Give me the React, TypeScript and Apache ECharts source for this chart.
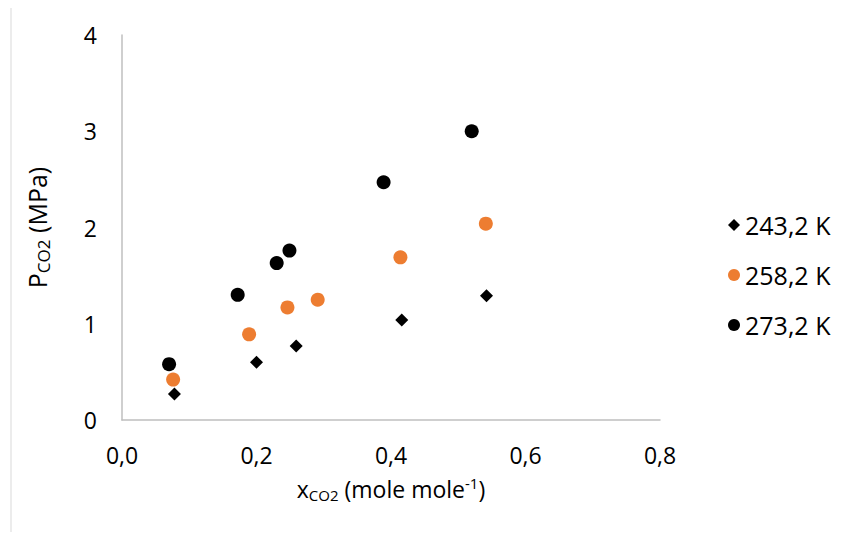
import React, { useEffect, useRef } from "react";
import * as echarts from "echarts";

const seriesNames = ["243,2 K", "258,2 K", "273,2 K"];
const xTicks = [0, 0.2, 0.4, 0.6, 0.8];

const x243 = [0.078, 0.2, 0.259, 0.416, 0.542];
const p243 = [0.27, 0.6, 0.77, 1.04, 1.29];

const x258 = [0.076, 0.189, 0.246, 0.291, 0.414, 0.541];
const p258 = [0.42, 0.89, 1.17, 1.25, 1.69, 2.04];

const x273 = [0.07, 0.172, 0.23, 0.249, 0.389, 0.52];
const p273 = [0.58, 1.3, 1.63, 1.76, 2.47, 3.0];

const FONT = "Open Sans";

export default function App() {
  const ref = useRef<HTMLDivElement>(null);
  useEffect(() => {
    if (!ref.current) return;
    const chart = echarts.init(ref.current, null, { renderer: "svg" });
    const pair = (xs: number[], ys: number[]) => xs.map((x, i) => [x, ys[i]]);
    const subStyle = { fontSize: 15, verticalAlign: "bottom", padding: [12, 0, 0, 0], fontFamily: FONT, color: "#000" };
    chart.setOption({
      animation: false,
      backgroundColor: "#ffffff",
      textStyle: { fontFamily: FONT },
      grid: { left: 122, right: 185, top: 35, bottom: 120, containLabel: false },
      graphic: [
        {
          type: "rect",
          shape: { x: 11, y: 5, width: 900, height: 600 },
          style: { fill: "none", stroke: "#d9d9d9", lineWidth: 1 },
          silent: true,
        },
      ],
      legend: {
        orient: "vertical",
        left: 723,
        top: 207,
        itemGap: 24,
        itemWidth: 12,
        itemHeight: 12,
        textStyle: { fontFamily: FONT, fontSize: 25, lineHeight: 26, color: "#000" },
        data: [
          { name: seriesNames[0], icon: "diamond" },
          { name: seriesNames[1], icon: "circle" },
          { name: seriesNames[2], icon: "circle" },
        ],
      },
      xAxis: {
        type: "value",
        min: 0,
        max: 0.8,
        interval: 0.2,
        axisLine: { show: true, lineStyle: { color: "#bfbfbf", width: 1.5 } },
        axisTick: { show: false },
        splitLine: { show: false },
        axisLabel: {
          margin: 23,
          fontSize: 23,
          color: "#000",
          fontFamily: FONT,
          formatter: (v: number) => v.toFixed(1).replace(".", ","),
        },
        name: "x{sub|CO2} (mole mole{sup|-1})",
        nameLocation: "middle",
        nameGap: 55,
        nameTextStyle: {
          fontSize: 23,
          color: "#000",
          fontFamily: FONT,
          rich: {
            sub: subStyle,
            sup: { fontSize: 15, verticalAlign: "top", padding: [0, 0, 12, 0], fontFamily: FONT, color: "#000" },
          },
        },
      },
      yAxis: {
        type: "value",
        min: 0,
        max: 4,
        interval: 1,
        axisLine: { show: true, lineStyle: { color: "#bfbfbf", width: 1.5 } },
        axisTick: { show: false },
        splitLine: { show: false },
        axisLabel: { margin: 25, fontSize: 23, color: "#000", fontFamily: FONT },
        name: "P{sub|CO2} (MPa)",
        nameLocation: "middle",
        nameGap: 70,
        nameTextStyle: {
          fontSize: 25,
          color: "#000",
          fontFamily: FONT,
          rich: { sub: { fontSize: 17, verticalAlign: "bottom", padding: [13, 0, 0, 0], fontFamily: FONT, color: "#000" } },
        },
      },
      series: [
        {
          name: seriesNames[0],
          type: "scatter",
          symbol: "diamond",
          symbolSize: 13,
          itemStyle: { color: "#000000", opacity: 1 },
          data: pair(x243, p243),
        },
        {
          name: seriesNames[1],
          type: "scatter",
          symbol: "circle",
          symbolSize: 14,
          itemStyle: { color: "#ED7D31", opacity: 1 },
          data: pair(x258, p258),
        },
        {
          name: seriesNames[2],
          type: "scatter",
          symbol: "circle",
          symbolSize: 14,
          itemStyle: { color: "#000000", opacity: 1 },
          data: pair(x273, p273),
        },
      ],
    });
    return () => chart.dispose();
  }, []);
  return <div ref={ref} style={{ width: 845, height: 540, margin: -8 }} />;
}
